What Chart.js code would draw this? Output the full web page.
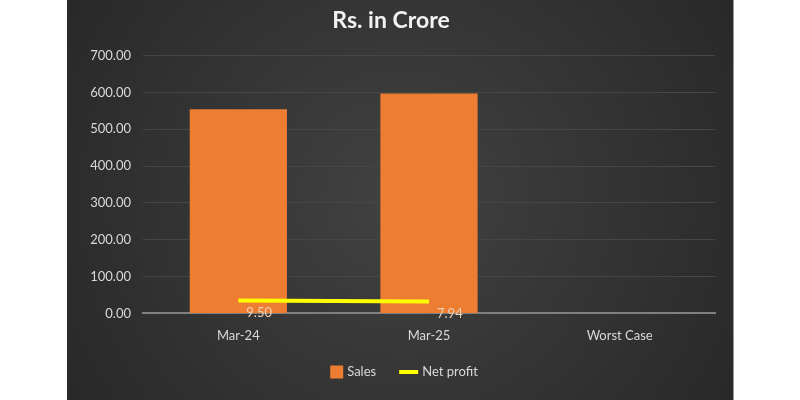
<!DOCTYPE html>
<html>
<head>
<meta charset="utf-8">
<script src="https://cdn.jsdelivr.net/npm/chart.js@4.4.1/dist/chart.umd.min.js"></script>
<style>
  html, body { margin: 0; padding: 0; background: #ffffff; width: 800px; height: 400px; overflow: hidden; }
  #wrap { position: absolute; left: 67px; top: 0; width: 666px; height: 400px; border-right: 1px solid #9a9a9a; }
  canvas { display: block; }
</style>
</head>
<body>
<div id="wrap"><canvas id="c" width="666" height="400"></canvas></div>
<script>
const categories = ["Mar-24", "Mar-25", "Worst Case"];
const salesValues = [554, 597, null];
const netProfitValues = [9.50, 7.94, null];
const yTicks = [0, 100, 200, 300, 400, 500, 600, 700];
const legendItems = [
  { text: "Sales", color: "#ED7D31", kind: "box" },
  { text: "Net profit", color: "#FFFF00", kind: "line" }
];

const FONT = 'Lato, "Open Sans", sans-serif';

const bgPlugin = {
  id: 'bg',
  beforeDraw(chart) {
    const ctx = chart.ctx, w = chart.width, h = chart.height;
    const g = ctx.createRadialGradient(w / 2, h / 2, 10, w / 2, h / 2, w * 0.62);
    g.addColorStop(0, '#414141');
    g.addColorStop(1, '#272727');
    ctx.save();
    ctx.fillStyle = g;
    ctx.fillRect(0, 0, w, h);
    ctx.restore();
  }
};

const labelPlugin = {
  id: 'npLabels',
  afterDatasetsDraw(chart) {
    const meta = chart.getDatasetMeta(1);
    const ctx = chart.ctx;
    ctx.save();
    ctx.font = '13px ' + FONT;
    ctx.fillStyle = '#ecd2b6';
    ctx.textAlign = 'left';
    ctx.textBaseline = 'middle';
    meta.data.forEach((pt, i) => {
      const v = netProfitValues[i];
      if (v === null || v === undefined) return;
      ctx.fillText(v.toFixed(2), pt.x + 8, pt.y + 12);
    });
    ctx.restore();
  }
};

const legendPlugin = {
  id: 'customLegend',
  afterDraw(chart) {
    const ctx = chart.ctx;
    ctx.save();
    ctx.font = '13px ' + FONT;
    ctx.textBaseline = 'middle';
    ctx.textAlign = 'left';
    const y = 372;
    const parts = legendItems.map(it => {
      const sw = it.kind === 'box' ? 13 : 19;
      return { it, sw, tw: ctx.measureText(it.text).width };
    });
    const gapSymText = 4, gapItems = 23;
    let total = 0;
    parts.forEach((p, i) => { total += p.sw + gapSymText + p.tw + (i < parts.length - 1 ? gapItems : 0); });
    let x = chart.width / 2 + 4 - total / 2;
    parts.forEach(p => {
      ctx.fillStyle = p.it.color;
      if (p.it.kind === 'box') {
        ctx.fillRect(x, y - 6.5, 13, 13);
      } else {
        ctx.fillRect(x, y - 2, 19, 4);
      }
      x += p.sw + gapSymText;
      ctx.fillStyle = '#d9d9d9';
      ctx.fillText(p.it.text, x, y);
      x += p.tw + gapItems;
    });
    ctx.restore();
  }
};

new Chart(document.getElementById('c'), {
  type: 'bar',
  data: {
    labels: categories,
    datasets: [
      {
        label: 'Sales',
        data: salesValues,
        backgroundColor: '#ED7D31',
        borderWidth: 0,
        categoryPercentage: 1,
        barPercentage: 0.51,
        yAxisID: 'y',
        order: 2
      },
      {
        label: 'Net profit',
        type: 'line',
        data: netProfitValues,
        borderColor: '#FFFF00',
        backgroundColor: '#FFFF00',
        borderWidth: 4,
        pointRadius: 0,
        tension: 0,
        yAxisID: 'y2',
        order: 1
      }
    ]
  },
  options: {
    responsive: false,
    animation: false,
    layout: { padding: { left: 0, right: 18, top: 0, bottom: 41 } },
    plugins: {
      title: {
        display: true,
        text: 'Rs. in Crore',
        color: '#f2f2f2',
        font: { family: FONT, size: 23, weight: 'bold' },
        padding: { top: 7, bottom: 21 }
      },
      legend: { display: false },
      tooltip: { enabled: false }
    },
    scales: {
      x: {
        offset: true,
        grid: { display: false, drawTicks: false },
        border: { display: true, color: '#808080', width: 2 },
        ticks: {
          color: '#d9d9d9',
          font: { family: FONT, size: 13 },
          padding: 15,
          maxRotation: 0
        }
      },
      y: {
        min: 0,
        max: 700,
        afterBuildTicks(scale) { scale.ticks = yTicks.map(v => ({ value: v })); },
        afterFit(scale) { scale.width = 76; },
        grid: { color: '#464646', lineWidth: 1, drawTicks: false },
        border: { display: false },
        ticks: {
          color: '#d9d9d9',
          font: { family: FONT, size: 13 },
          padding: 12,
          callback: v => Number(v).toFixed(2)
        }
      },
      y2: {
        display: false,
        min: -12,
        max: 420
      }
    }
  },
  plugins: [bgPlugin, labelPlugin, legendPlugin]
});
</script>
</body>
</html>
